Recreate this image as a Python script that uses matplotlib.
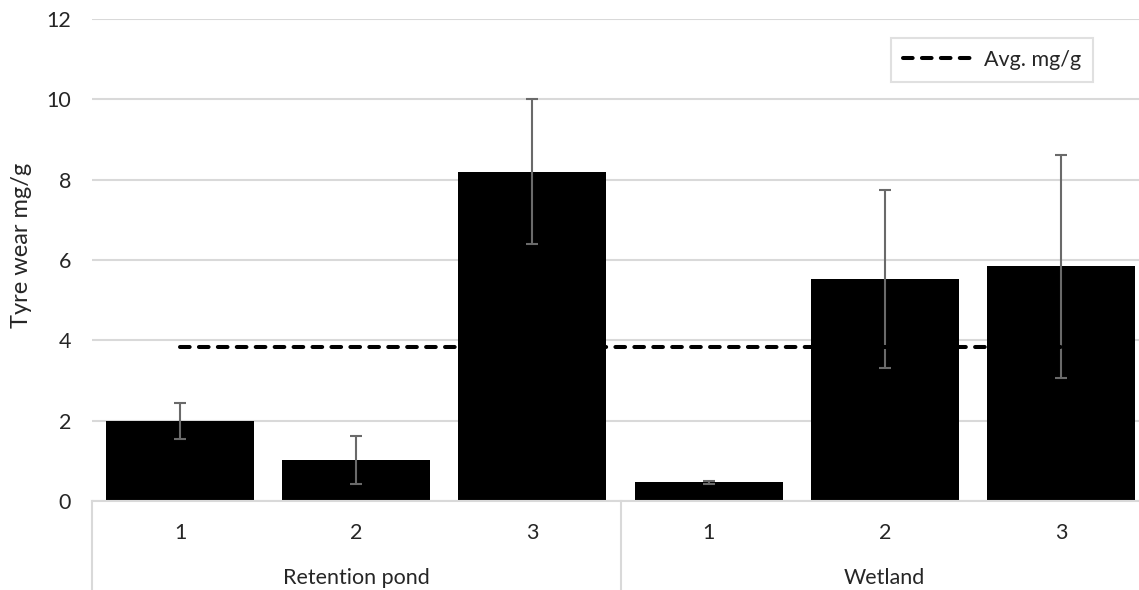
import matplotlib
matplotlib.use("Agg")
import matplotlib.pyplot as plt
from matplotlib.lines import Line2D
import matplotlib.transforms as mtransforms

plt.rcParams['font.family'] = ['Lato', 'DejaVu Sans']

# sample sites, grouped by treatment type
groups = ["Retention pond", "Wetland"]
sites = ["1", "2", "3", "1", "2", "3"]
tyre_wear = [1.99, 1.02, 8.2, 0.47, 5.53, 5.84]
tyre_err = [0.44, 0.59, 1.81, 0.04, 2.21, 2.77]
avg_mg_g = 3.84

GRID = "#d9d9d9"
TXT = "#262626"
FS = 15.5

fig = plt.figure(figsize=(11.39, 5.90), dpi=100)
W, H = 1139, 590
left, right, top, bottom = 92, 1149, 19, 501
ax = fig.add_axes([left / W, 1 - bottom / H, (right - left) / W, (bottom - top) / H])

x = list(range(len(sites)))
ax.bar(x, tyre_wear, width=0.84, color="black", zorder=2)
ax.errorbar(x, tyre_wear, yerr=tyre_err, fmt="none", ecolor="#6a6a6a",
            elinewidth=1.5, capsize=4.5, capthick=1.5, zorder=3)
ax.plot(x, [avg_mg_g] * len(x), color="black", lw=2.9, linestyle=(0, (2.4, 2.3)),
        dash_capstyle="round", zorder=4, label="Avg. mg/g")

ax.set_xlim(-0.5, len(x) - 0.5)
ax.set_ylim(0, 12)
ax.set_yticks(range(0, 13, 2))
ax.yaxis.grid(True, color=GRID, lw=1.5, zorder=0)
ax.set_axisbelow(True)
for s in ["left", "right", "top"]:
    ax.spines[s].set_visible(False)
ax.spines["bottom"].set_color(GRID)
ax.spines["bottom"].set_linewidth(1.5)
ax.tick_params(axis="y", length=0, pad=15, labelsize=FS, labelcolor=TXT)
ax.set_xticks(x)
ax.set_xticklabels(sites)
ax.tick_params(axis="x", length=0, pad=16, labelsize=FS, labelcolor=TXT)
ax.set_ylabel("Tyre wear mg/g", fontsize=17, color=TXT)
ax.yaxis.set_label_coords(22 / W, 1 - 245 / H, transform=fig.transFigure)
ax.yaxis.label.set_va("center")

# two-level category axis: separators and group names
trans = mtransforms.blended_transform_factory(ax.transData, ax.transAxes)
depth = -(H - bottom) / (bottom - top)
for xs in [-0.5, 2.5, 5.5]:
    ax.add_line(Line2D([xs, xs], [0, depth], transform=trans, color=GRID,
                       lw=1.5, clip_on=False))
for i, g in enumerate(groups):
    ax.text(i * 3 + 1, -(578 - bottom) / (bottom - top), g, transform=trans,
            ha="center", va="center", fontsize=FS, color=TXT)

leg = ax.legend(loc="center", bbox_to_anchor=((886 + 1098) / 2 / W, 1 - 60 / H),
                bbox_transform=fig.transFigure, fontsize=FS, frameon=True,
                fancybox=False, handlelength=3.4, handletextpad=0.4,
                borderpad=0.55, borderaxespad=0)
leg.get_frame().set_edgecolor(GRID)
leg.get_frame().set_linewidth(1.5)
for t in leg.get_texts():
    t.set_color(TXT)

fig.savefig("out.png", dpi=100)
